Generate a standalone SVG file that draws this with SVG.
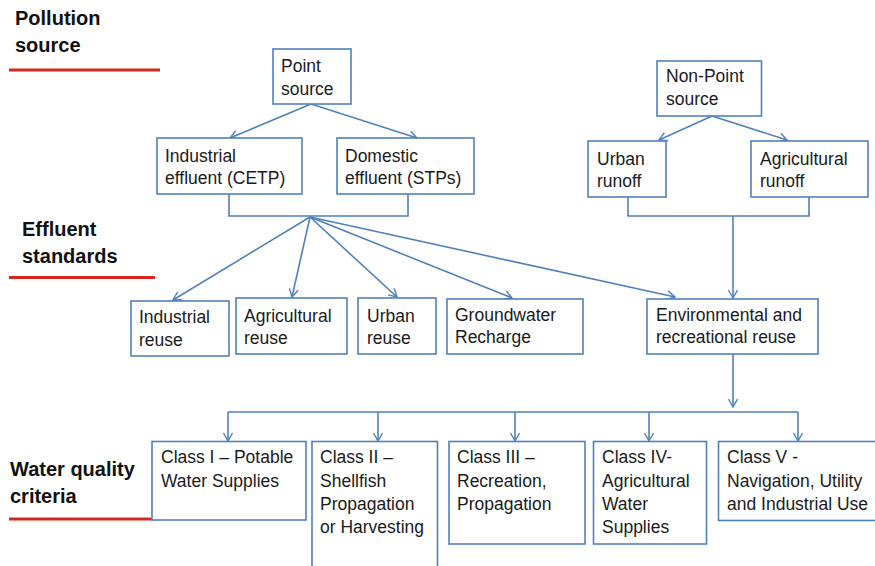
<svg xmlns="http://www.w3.org/2000/svg" width="875" height="566" viewBox="0 0 875 566">
  <style>
    .box { fill: #ffffff; stroke: #4f81bd; stroke-width: 1.6; }
    .lbl { font-family: "Liberation Sans", Arial, sans-serif; font-size: 17.5px; fill: #1a1a1a; }
    .head { font-family: "Liberation Sans", Arial, sans-serif; font-size: 20px; font-weight: bold; fill: #111111; }
    .rule { stroke: #d7261e; stroke-width: 3; }
    .conn { fill: none; stroke: #4f81bd; stroke-width: 1.6; }
    .arr { marker-end: url(#arrow); }
  </style>
  <defs>
    <marker id="arrow" markerUnits="userSpaceOnUse" markerWidth="12" markerHeight="12" refX="9" refY="5" orient="auto">
      <path d="M1,0.5 L9,5 L1,9.5" fill="none" stroke="#4f81bd" stroke-width="1.4"/>
    </marker>
  </defs>
  <rect width="875" height="566" fill="#ffffff"/>

  <!-- level headings -->
  <g id="heading-pollution">
    <text class="head" x="15" y="25">Pollution</text>
    <text class="head" x="15" y="52">source</text>
    <line class="rule" x1="9" y1="70" x2="160" y2="70"/>
  </g>
  <g id="heading-effluent">
    <text class="head" x="22" y="236">Effluent</text>
    <text class="head" x="22" y="263">standards</text>
    <line class="rule" x1="9" y1="277.5" x2="155" y2="277.5"/>
  </g>
  <g id="heading-criteria">
    <text class="head" x="10" y="476">Water quality</text>
    <text class="head" x="10" y="503">criteria</text>
    <line class="rule" x1="9" y1="519" x2="153" y2="519"/>
  </g>

  <!-- connectors -->
  <g id="connectors">
    <line class="conn arr" x1="311" y1="104" x2="230" y2="138"/>
    <line class="conn arr" x1="311" y1="104" x2="417" y2="138"/>
    <path class="conn" d="M229,194 V216 H408 V194"/>
    <line class="conn arr" x1="310" y1="217" x2="173" y2="300"/>
    <line class="conn arr" x1="310" y1="217" x2="292" y2="297"/>
    <line class="conn arr" x1="310" y1="217" x2="397" y2="297"/>
    <line class="conn arr" x1="310" y1="217" x2="512" y2="298"/>
    <line class="conn arr" x1="310" y1="217" x2="675" y2="297"/>
    <line class="conn arr" x1="712" y1="116" x2="659" y2="140"/>
    <line class="conn arr" x1="712" y1="116" x2="787" y2="140"/>
    <path class="conn" d="M628,197 V216 H809 V197"/>
    <line class="conn arr" x1="733" y1="216" x2="733" y2="298"/>
    <line class="conn arr" x1="733" y1="354" x2="733" y2="407"/>
    <line class="conn" x1="228" y1="412" x2="798" y2="412"/>
    <line class="conn arr" x1="228" y1="412" x2="228" y2="441"/>
    <line class="conn arr" x1="378" y1="412" x2="378" y2="441"/>
    <line class="conn arr" x1="515" y1="412" x2="515" y2="441"/>
    <line class="conn arr" x1="649" y1="412" x2="649" y2="441"/>
    <line class="conn arr" x1="798" y1="412" x2="798" y2="441"/>
  </g>

  <!-- sources -->
  <g id="point-source">
    <rect class="box" x="273" y="49" width="78" height="55"/>
    <text class="lbl" x="281" y="72">Point</text>
    <text class="lbl" x="281" y="95">source</text>
  </g>
  <g id="non-point-source">
    <rect class="box" x="657" y="61" width="104.5" height="55"/>
    <text class="lbl" x="666" y="82">Non-Point</text>
    <text class="lbl" x="666" y="105">source</text>
  </g>
  <g id="industrial-effluent">
    <rect class="box" x="157" y="138" width="145" height="56"/>
    <text class="lbl" x="165" y="162">Industrial</text>
    <text class="lbl" x="165" y="184">effluent  (CETP)</text>
  </g>
  <g id="domestic-effluent">
    <rect class="box" x="337" y="138" width="137" height="56"/>
    <text class="lbl" x="345" y="162">Domestic</text>
    <text class="lbl" x="345" y="184">effluent (STPs)</text>
  </g>
  <g id="urban-runoff">
    <rect class="box" x="588" y="141" width="78" height="56"/>
    <text class="lbl" x="597" y="165">Urban</text>
    <text class="lbl" x="597" y="187">runoff</text>
  </g>
  <g id="agricultural-runoff">
    <rect class="box" x="751" y="141" width="117" height="56"/>
    <text class="lbl" x="760" y="165">Agricultural</text>
    <text class="lbl" x="760" y="187">runoff</text>
  </g>

  <!-- reuse -->
  <g id="industrial-reuse">
    <rect class="box" x="131" y="301" width="98" height="55"/>
    <text class="lbl" x="139" y="323">Industrial</text>
    <text class="lbl" x="139" y="346">reuse</text>
  </g>
  <g id="agricultural-reuse">
    <rect class="box" x="236" y="298" width="111" height="56"/>
    <text class="lbl" x="244" y="322">Agricultural</text>
    <text class="lbl" x="244" y="344">reuse</text>
  </g>
  <g id="urban-reuse">
    <rect class="box" x="358" y="298" width="78" height="56"/>
    <text class="lbl" x="367" y="322">Urban</text>
    <text class="lbl" x="367" y="344">reuse</text>
  </g>
  <g id="groundwater-recharge">
    <rect class="box" x="447" y="299" width="136" height="55"/>
    <text class="lbl" x="455" y="321">Groundwater</text>
    <text class="lbl" x="455" y="343">Recharge</text>
  </g>
  <g id="environmental-reuse">
    <rect class="box" x="647" y="299" width="171" height="55"/>
    <text class="lbl" x="656" y="321">Environmental and</text>
    <text class="lbl" x="656" y="343">recreational reuse</text>
  </g>

  <!-- water quality classes -->
  <g id="class-1">
    <rect class="box" x="152" y="441.5" width="154" height="78.5"/>
    <text class="lbl" x="161" y="463">Class I – Potable</text>
    <text class="lbl" x="161" y="487">Water Supplies</text>
  </g>
  <g id="class-2">
    <rect class="box" x="312" y="441.5" width="125.5" height="140"/>
    <text class="lbl" x="320" y="463">Class II –</text>
    <text class="lbl" x="320" y="487">Shellfish</text>
    <text class="lbl" x="320" y="510">Propagation</text>
    <text class="lbl" x="320" y="533">or Harvesting</text>
  </g>
  <g id="class-3">
    <rect class="box" x="449" y="441.5" width="136" height="102.5"/>
    <text class="lbl" x="457" y="463">Class III –</text>
    <text class="lbl" x="457" y="487">Recreation,</text>
    <text class="lbl" x="457" y="510">Propagation</text>
  </g>
  <g id="class-4">
    <rect class="box" x="593.5" y="441.5" width="113" height="102.5"/>
    <text class="lbl" x="602" y="463">Class IV-</text>
    <text class="lbl" x="602" y="487">Agricultural</text>
    <text class="lbl" x="602" y="510">Water</text>
    <text class="lbl" x="602" y="533">Supplies</text>
  </g>
  <g id="class-5">
    <rect class="box" x="718.5" y="441.5" width="170" height="79"/>
    <text class="lbl" x="727" y="463">Class V -</text>
    <text class="lbl" x="727" y="487">Navigation, Utility</text>
    <text class="lbl" x="727" y="510">and Industrial Use</text>
  </g>
</svg>
